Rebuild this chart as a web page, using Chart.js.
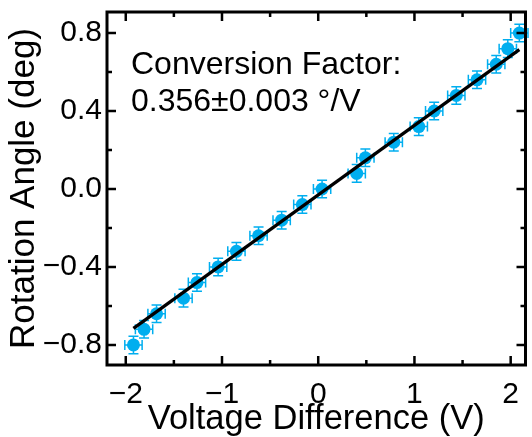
<!DOCTYPE html>
<html><head><meta charset="utf-8">
<script src="https://cdn.jsdelivr.net/npm/chart.js@4/dist/chart.umd.min.js"></script>
<style>html,body{margin:0;padding:0;background:#fff;overflow:hidden;}</style>
</head><body>
<canvas id="c" width="532" height="437"></canvas>
<script>
// ---- data ----
const voltage = [-1.92, -1.81, -1.68, -1.40, -1.26, -1.04, -0.85, -0.62, -0.38, -0.165, 0.04, 0.40, 0.49, 0.785, 1.045, 1.205, 1.435, 1.65, 1.85, 1.97, 2.09];
const angle   = [-0.80, -0.72, -0.64, -0.56, -0.48, -0.40, -0.32, -0.24, -0.16, -0.08, 0.00, 0.08, 0.16, 0.24, 0.32, 0.40, 0.48, 0.56, 0.64, 0.72, 0.80];
const voltageErr = [0.09, 0.09, 0.09, 0.09, 0.09, 0.09, 0.09, 0.09, 0.09, 0.09, 0.09, 0.09, 0.09, 0.09, 0.09, 0.09, 0.09, 0.09, 0.09, 0.09, 0.09];
const angleErr   = [0.045, 0.045, 0.045, 0.045, 0.045, 0.045, 0.045, 0.045, 0.045, 0.045, 0.045, 0.045, 0.045, 0.045, 0.045, 0.045, 0.045, 0.045, 0.045, 0.045, 0.045];
const fitVoltage = [-1.92, 2.09];
const fitAngle   = [-0.715, 0.715];
const xTicks = [-2, -1, 0, 1, 2];
const xMinorTicks = [-1.5, -0.5, 0.5, 1.5];
const yTicks = [-0.8, -0.4, 0.0, 0.4, 0.8];
const yMinorTicks = [-0.6, -0.2, 0.2, 0.6];
const annotationLines = ['Conversion Factor:', '0.356±0.003 °/V'];

const FONT = '"Liberation Sans", Arial, Helvetica, sans-serif';
const CYAN = 'rgb(0,174,239)';
const minus = s => s.replace('-', '\u2212');

const framePlugin = {
  id: 'frame',
  beforeDatasetsDraw(chart) {
    const {ctx, scales: {x, y}} = chart;
    ctx.save();
    ctx.strokeStyle = CYAN;
    ctx.lineWidth = 1.5;
    const cap = 5;
    for (let i = 0; i < voltage.length; i++) {
      const px = x.getPixelForValue(voltage[i]);
      const py = y.getPixelForValue(angle[i]);
      const x0 = x.getPixelForValue(voltage[i] - voltageErr[i]);
      const x1 = x.getPixelForValue(voltage[i] + voltageErr[i]);
      const y0 = y.getPixelForValue(angle[i] - angleErr[i]);
      const y1 = y.getPixelForValue(angle[i] + angleErr[i]);
      ctx.beginPath();
      ctx.moveTo(x0, py); ctx.lineTo(x1, py);
      ctx.moveTo(x0, py - cap); ctx.lineTo(x0, py + cap);
      ctx.moveTo(x1, py - cap); ctx.lineTo(x1, py + cap);
      ctx.moveTo(px, y0); ctx.lineTo(px, y1);
      ctx.moveTo(px - cap, y0); ctx.lineTo(px + cap, y0);
      ctx.moveTo(px - cap, y1); ctx.lineTo(px + cap, y1);
      ctx.stroke();
    }
    ctx.restore();
  },
  afterDraw(chart) {
    const {ctx, chartArea: a, scales: {x, y}} = chart;
    ctx.save();
    ctx.strokeStyle = '#000';
    ctx.lineWidth = 3;
    ctx.lineCap = 'butt';
    ctx.strokeRect(a.left, a.top, a.right - a.left, a.bottom - a.top);
    const major = 9, minor = 5;
    ctx.lineWidth = 2.5;
    ctx.beginPath();
    const xt = (v, len) => {
      const p = x.getPixelForValue(v);
      ctx.moveTo(p, a.bottom); ctx.lineTo(p, a.bottom - len);
      ctx.moveTo(p, a.top); ctx.lineTo(p, a.top + len);
    };
    const yt = (v, len) => {
      const p = y.getPixelForValue(v);
      ctx.moveTo(a.left, p); ctx.lineTo(a.left + len, p);
      ctx.moveTo(a.right, p); ctx.lineTo(a.right - len, p);
    };
    xTicks.forEach(v => xt(v, major));
    xMinorTicks.forEach(v => xt(v, minor));
    yTicks.forEach(v => yt(v, major));
    yMinorTicks.forEach(v => yt(v, minor));
    ctx.stroke();
    // annotation text
    ctx.fillStyle = '#000';
    ctx.font = '32px ' + FONT;
    ctx.textBaseline = 'alphabetic';
    ctx.textAlign = 'left';
    ctx.fillText(annotationLines[0], a.left + 24, a.top + 62);
    ctx.fillText(annotationLines[1], a.left + 24, a.top + 99);
    ctx.restore();
  }
};

new Chart(document.getElementById('c'), {
  type: 'scatter',
  data: {
    datasets: [
      {
        type: 'line',
        data: fitVoltage.map((v, i) => ({x: v, y: fitAngle[i]})),
        borderColor: '#000',
        borderWidth: 3.2,
        pointRadius: 0,
        fill: false,
        order: 0,
        clip: false
      },
      {
        data: voltage.map((v, i) => ({x: v, y: angle[i]})),
        backgroundColor: CYAN,
        borderWidth: 0,
        pointRadius: 6.5,
        pointHoverRadius: 6.5,
        order: 1,
        clip: false
      }
    ]
  },
  options: {
    responsive: false,
    animation: false,
    devicePixelRatio: 1,
    events: [],
    layout: {padding: {top: 12, right: 1, left: 0, bottom: 0}},
    plugins: {legend: {display: false}, tooltip: {enabled: false}},
    scales: {
      x: {
        type: 'linear', min: -2.195, max: 2.154,
        grid: {display: false, drawTicks: false},
        border: {display: false},
        afterBuildTicks: s => { s.ticks = xTicks.map(v => ({value: v})); },
        afterFit: s => { s.height = 72; s.paddingLeft = 0; s.paddingRight = 0; },
        ticks: {padding: 12, autoSkip: false, maxRotation: 0, color: '#000',
          font: {family: FONT, size: 30},
          callback: v => minus(String(v))},
        title: {display: true, text: 'Voltage Difference (V)', color: '#000',
          font: {family: FONT, size: 34.5, lineHeight: 1}, padding: {top: 0, bottom: 0}}
      },
      y: {
        type: 'linear', min: -0.903, max: 0.908,
        grid: {display: false, drawTicks: false},
        border: {display: false},
        afterBuildTicks: s => { s.ticks = yTicks.map(v => ({value: v})); },
        afterFit: s => { s.width = 107; s.paddingTop = 0; s.paddingBottom = 0; },
        ticks: {padding: 5, autoSkip: false, color: '#000',
          font: {family: FONT, size: 30},
          callback: v => minus(Number(v).toFixed(1))},
        title: {display: true, text: 'Rotation Angle (deg)', color: '#000',
          font: {family: FONT, size: 35, lineHeight: 1}, padding: {top: 7, bottom: 0}}
      }
    }
  },
  plugins: [framePlugin]
});
</script>
</body></html>
